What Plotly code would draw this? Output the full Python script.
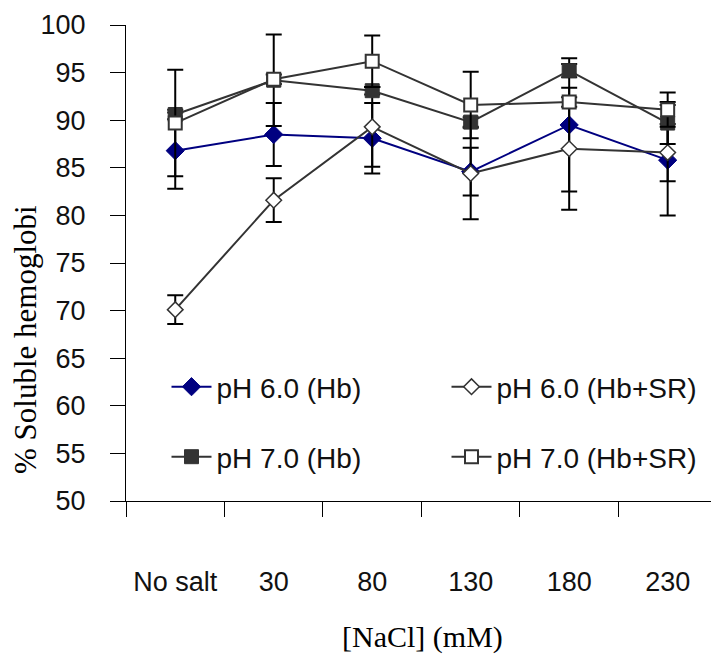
import plotly.graph_objects as go

categories = ["No salt", "30", "80", "130", "180", "230"]

ph6_hb = [86.8, 88.5, 88.1, 84.6, 89.5, 85.8]
ph6_hb_err = [4.0, 3.3, 3.7, 2.5, 7.0, 5.8]

ph6_sr = [70.1, 81.6, 89.3, 84.4, 87.0, 86.6]
ph6_sr_err = [1.5, 2.3, 4.2, 4.8, 6.4, 3.0]

ph7_hb = [90.6, 94.2, 93.1, 89.8, 95.2, 89.7]
ph7_hb_err = [0.5, 4.8, 0.4, 0.5, 0.7, 2.2]

ph7_sr = [89.7, 94.3, 96.2, 91.6, 91.9, 91.1]
ph7_sr_err = [5.6, 0.5, 2.7, 3.5, 0.5, 1.8]

y_ticks = [50, 55, 60, 65, 70, 75, 80, 85, 90, 95, 100]

GRAY = "#333333"
NAVY = "#000080"
SANS = "Liberation Sans"
SERIF = "Liberation Serif"

L, R, T, B = 126, 0, 25, 153
W, H = 711, 654
PW, PH = W - L - R, H - T - B


def px_x(p):
    return (p - L) / PW


def px_y(p):
    return (H - B - p) / PH


def err(vals):
    return dict(type="data", array=vals, visible=True, color="black",
                thickness=2, width=8)


fig = go.Figure()
fig.add_trace(go.Scatter(
    x=categories, y=ph6_hb, name="pH 6.0 (Hb)", mode="lines+markers",
    line=dict(color=NAVY, width=2),
    marker=dict(symbol="diamond", size=14, color=NAVY, line=dict(color=NAVY, width=1)),
    error_y=err(ph6_hb_err), legend="legend"))
fig.add_trace(go.Scatter(
    x=categories, y=ph6_sr, name="pH 6.0 (Hb+SR)", mode="lines+markers",
    line=dict(color=GRAY, width=2),
    marker=dict(symbol="diamond", size=12, color="white", line=dict(color=GRAY, width=1.5)),
    error_y=err(ph6_sr_err), legend="legend2"))
fig.add_trace(go.Scatter(
    x=categories, y=ph7_hb, name="pH 7.0 (Hb)", mode="lines+markers",
    line=dict(color=GRAY, width=2),
    marker=dict(symbol="square", size=14, color=GRAY, line=dict(color=GRAY, width=1)),
    error_y=err(ph7_hb_err), legend="legend3"))
fig.add_trace(go.Scatter(
    x=categories, y=ph7_sr, name="pH 7.0 (Hb+SR)", mode="lines+markers",
    line=dict(color=GRAY, width=2),
    marker=dict(symbol="square", size=13, color="white", line=dict(color=GRAY, width=2)),
    error_y=err(ph7_sr_err), legend="legend4"))

legend_common = dict(orientation="h", xanchor="left", yanchor="middle",
                     font=dict(family=SANS, size=28, color="#111111"),
                     bgcolor="rgba(0,0,0,0)", itemwidth=40)

col1, col2 = px_x(218 - 51.5), px_x(498 - 51.5)
row1, row2 = px_y(387), px_y(457)

fig.update_layout(
    width=W, height=H,
    margin=dict(l=L, r=R, t=T, b=B),
    paper_bgcolor="white", plot_bgcolor="white",
    showlegend=True,
    legend=dict(x=col1, y=row1, **legend_common),
    legend2=dict(x=col2, y=row1, **legend_common),
    legend3=dict(x=col1, y=row2, **legend_common),
    legend4=dict(x=col2, y=row2, **legend_common),
    xaxis=dict(
        type="category", categoryorder="array", categoryarray=categories,
        range=[-0.5, 5.44], tickson="boundaries",
        ticks="outside", ticklen=15, tickcolor="black", tickwidth=1,
        showline=True, linecolor="black", linewidth=1,
        showgrid=False, zeroline=False, automargin=False,
        tickfont=dict(family=SANS, size=27, color="#111111"),
        ticklabelstandoff=57,
    ),
    yaxis=dict(
        range=[50, 100], tickvals=y_ticks,
        ticks="outside", ticklen=15, tickcolor="black", tickwidth=1,
        showline=True, linecolor="black", linewidth=1,
        showgrid=False, zeroline=False, automargin=False,
        tickfont=dict(family=SANS, size=27, color="#111111"),
        ticklabelstandoff=19,
    ),
    annotations=[
        dict(text="[NaCl] (mM)", xref="paper", yref="paper",
             x=px_x(422), y=px_y(637), xanchor="center", yanchor="middle",
             showarrow=False, font=dict(family=SERIF, size=30, color="black")),
        dict(text="% Soluble hemoglobi", xref="paper", yref="paper",
             x=px_x(25), y=px_y(340), xanchor="center", yanchor="middle",
             textangle=-90, showarrow=False,
             font=dict(family=SERIF, size=31, color="black")),
    ],
)

fig.write_html("out.html", config={"displayModeBar": False},
               post_script="document.body.style.margin='0';")
